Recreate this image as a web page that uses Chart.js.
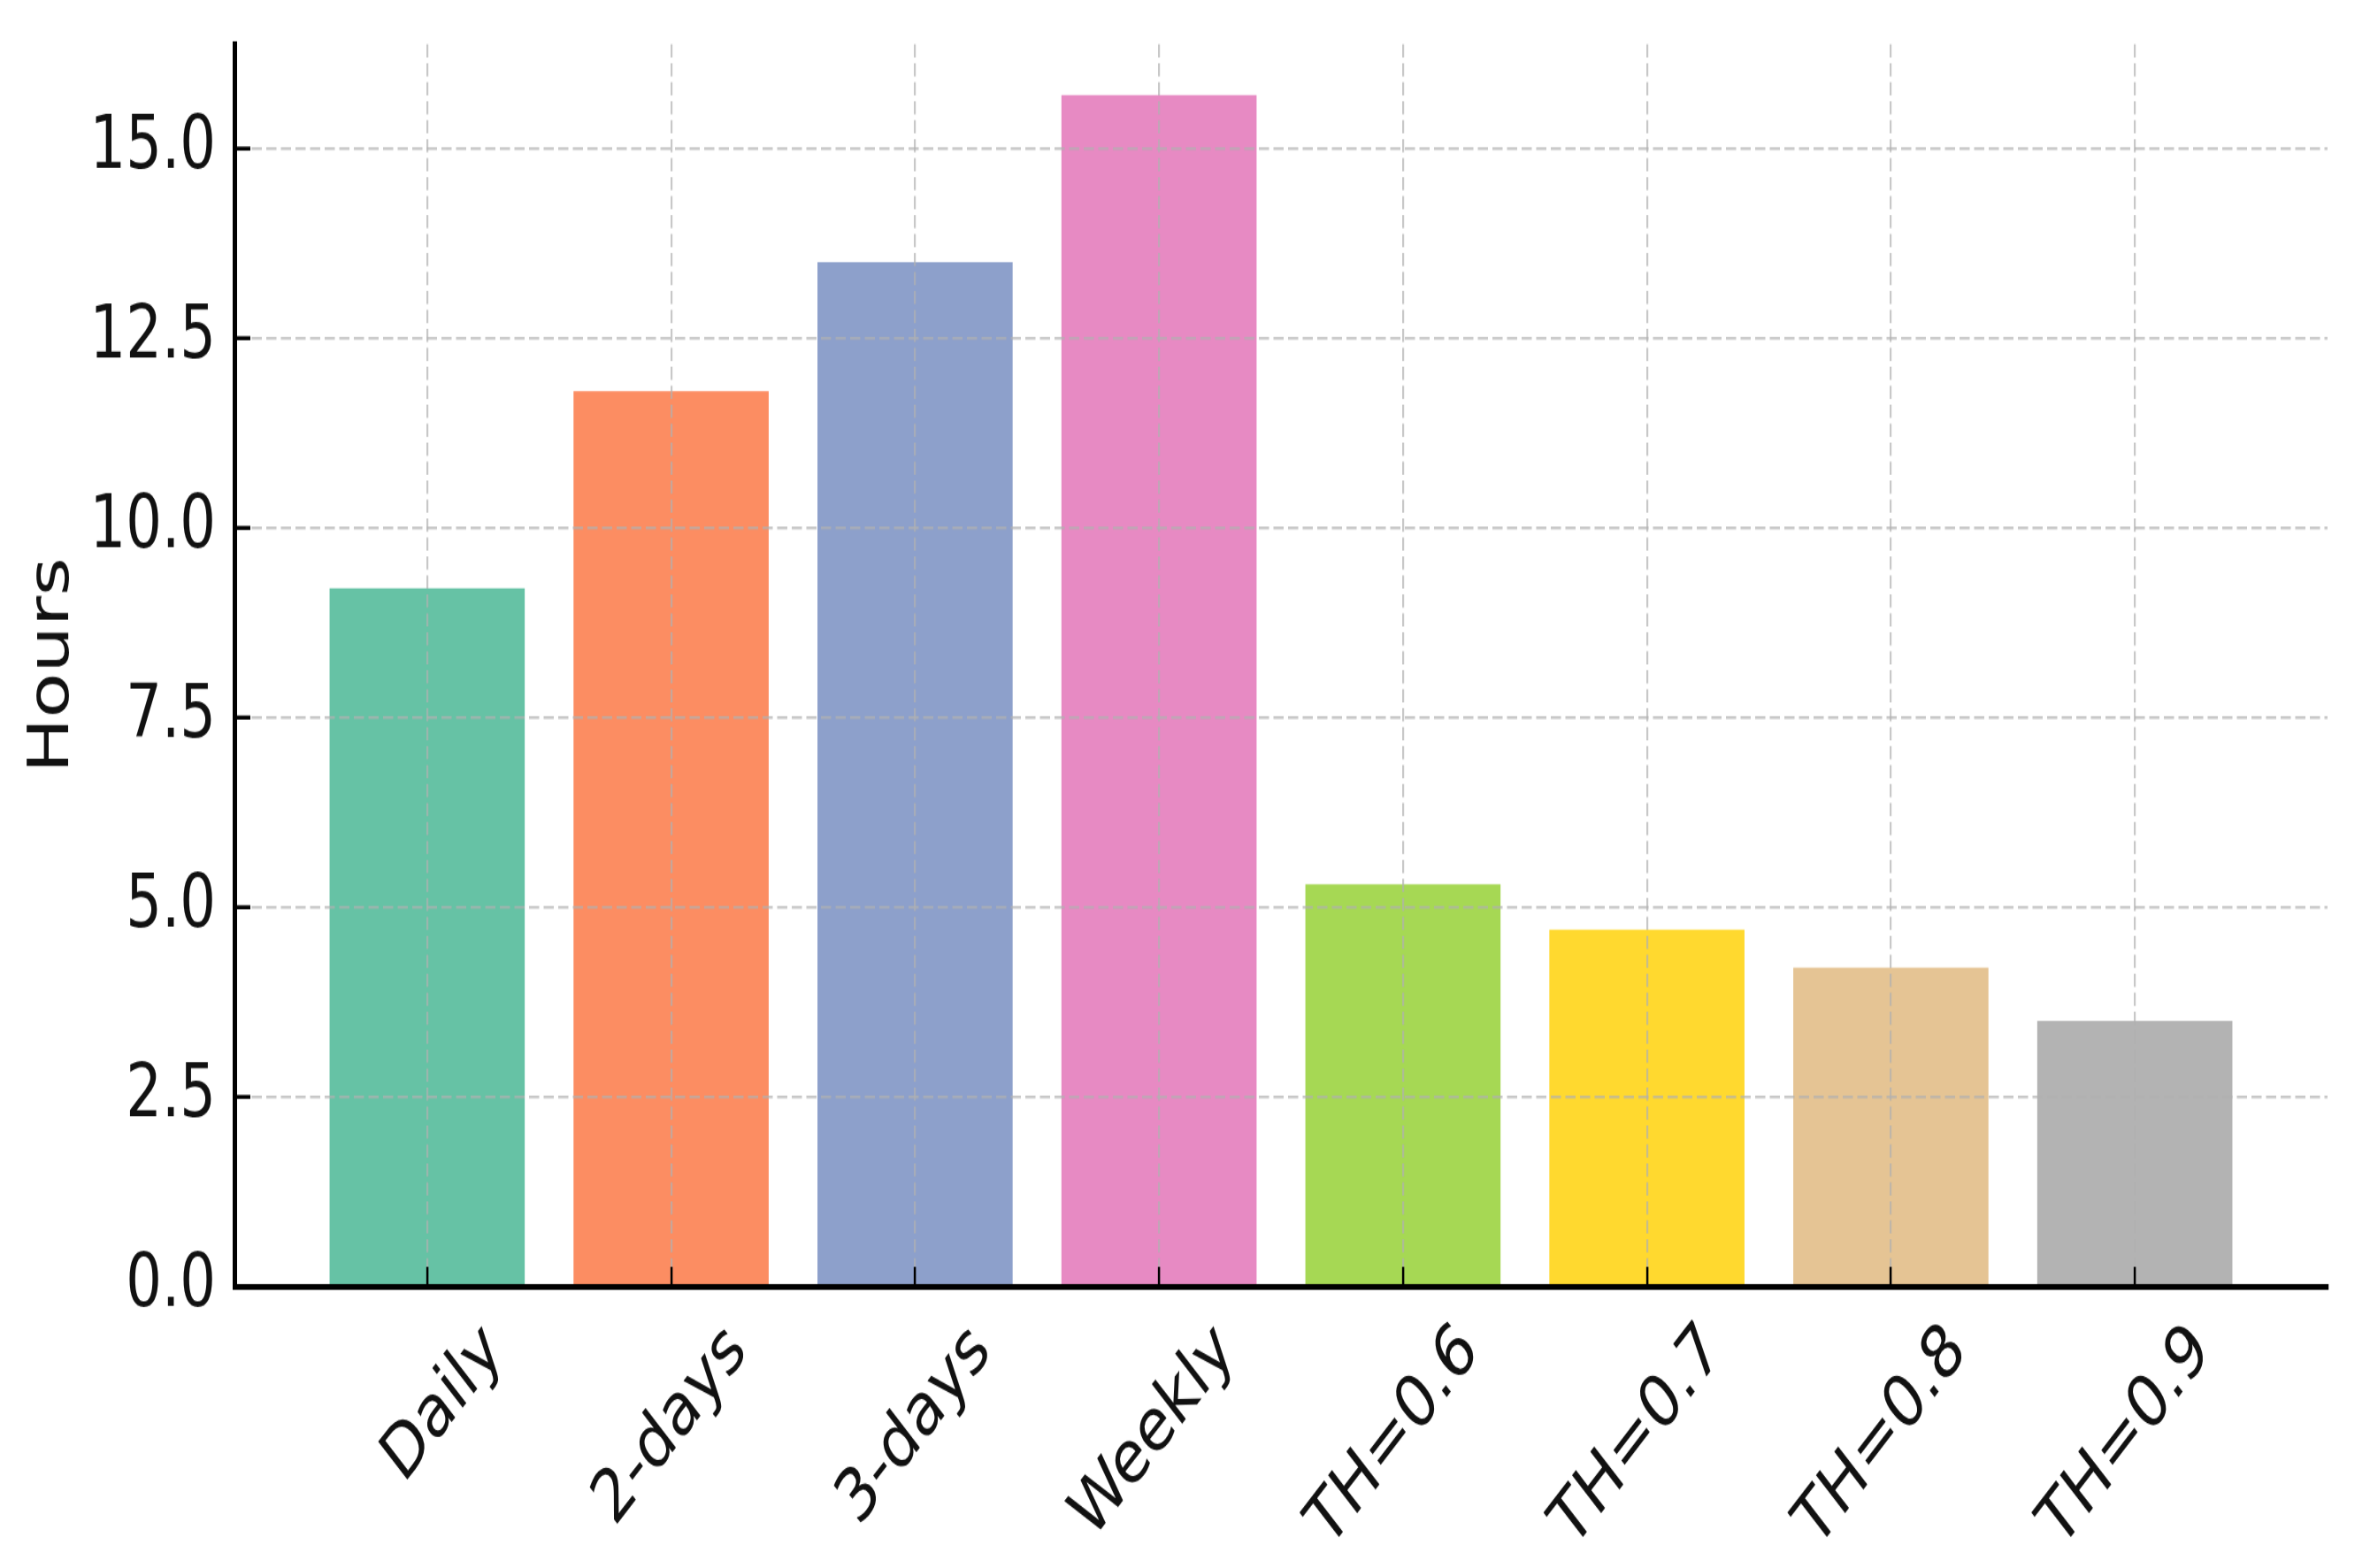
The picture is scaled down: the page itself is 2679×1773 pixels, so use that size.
<!DOCTYPE html>
<html>
<head>
<meta charset="utf-8">
<script src="https://cdn.jsdelivr.net/npm/chart.js@4.4.1/dist/chart.umd.min.js"></script>
<style>
html, body { margin: 0; padding: 0; background: #ffffff; overflow: hidden; width: 2679px; height: 1773px; }
#wrap { position: absolute; left: 0; top: 0; width: 2679px; height: 1364px; transform-origin: 0 0; transform: scaleY(1.29985); }
canvas { display: block; }
</style>
</head>
<body>
<div id="wrap"><canvas id="c" width="2679" height="1364"></canvas></div>
<script>
// ---- data ----
const categories = ['Daily', '2-days', '3-days', 'Weekly', 'TH=0.6', 'TH=0.7', 'TH=0.8', 'TH=0.9'];
const hours = [9.2, 11.8, 13.5, 15.7, 5.3, 4.7, 4.2, 3.5];
const barColors = ['#66c2a5', '#fc8d62', '#8da0cb', '#e78ac3', '#a6d854', '#ffd92f', '#e5c494', '#b3b3b3'];
const yTickValues = [0.0, 2.5, 5.0, 7.5, 10.0, 12.5, 15.0];
const yAxisTitle = 'Hours';

const FONT = { family: 'DejaVu Sans', size: 64 };
const GRID_COLOR = 'rgba(176,176,176,0.7)';

new Chart(document.getElementById('c'), {
  type: 'bar',
  data: {
    datasets: [{
      data: hours.map((v, i) => ({ x: i, y: v })),
      backgroundColor: barColors,
      borderWidth: 0,
      categoryPercentage: 1.0,
      barPercentage: 0.8
    }]
  },
  options: {
    responsive: false,
    animation: false,
    devicePixelRatio: 1,
    layout: { padding: { top: 38.5, right: 48, left: 0, bottom: 0 } },
    plugins: { legend: { display: false }, tooltip: { enabled: false } },
    scales: {
      x: {
        type: 'linear',
        min: -0.79,
        max: 7.79,
        offset: false,
        afterBuildTicks: (a) => { a.ticks = categories.map((c, i) => ({ value: i })); },
        afterFit: (a) => { a.height = 245; a.paddingLeft = 0; a.paddingRight = 0; },
        ticks: {
          autoSkip: false,
          minRotation: 45,
          maxRotation: 45,
          padding: 36,
          labelOffset: 76,
          color: '#111111',
          font: FONT,
          callback: (v) => categories[Math.round(v)]
        },
        grid: {
          offset: false,
          color: GRID_COLOR,
          lineWidth: 2.2,
          drawTicks: true,
          tickLength: -17,
          tickColor: '#000000',
          tickWidth: 2.5,
          z: 1
        },
        border: { display: true, color: '#000000', width: 5, dash: [11.5, 5], z: 2 }
      },
      y: {
        type: 'linear',
        min: 0,
        max: 16.37,
        afterBuildTicks: (a) => { a.ticks = yTickValues.map(v => ({ value: v })); },
        afterFit: (a) => { a.width = 265; a.paddingTop = 0; a.paddingBottom = 0; },
        ticks: {
          padding: 39,
          color: '#111111',
          font: FONT,
          callback: (v) => Number(v).toFixed(1)
        },
        grid: {
          color: GRID_COLOR,
          lineWidth: 2.4,
          drawTicks: true,
          tickLength: -18,
          tickColor: '#000000',
          tickWidth: 3.5,
          z: 1
        },
        border: { display: true, color: '#000000', width: 5, dash: [11.5, 5], z: 2 },
        title: {
          display: true,
          text: yAxisTitle,
          color: '#111111',
          font: FONT,
          padding: { top: 22, bottom: 0 }
        }
      }
    }
  }
});
</script>
</body>
</html>
